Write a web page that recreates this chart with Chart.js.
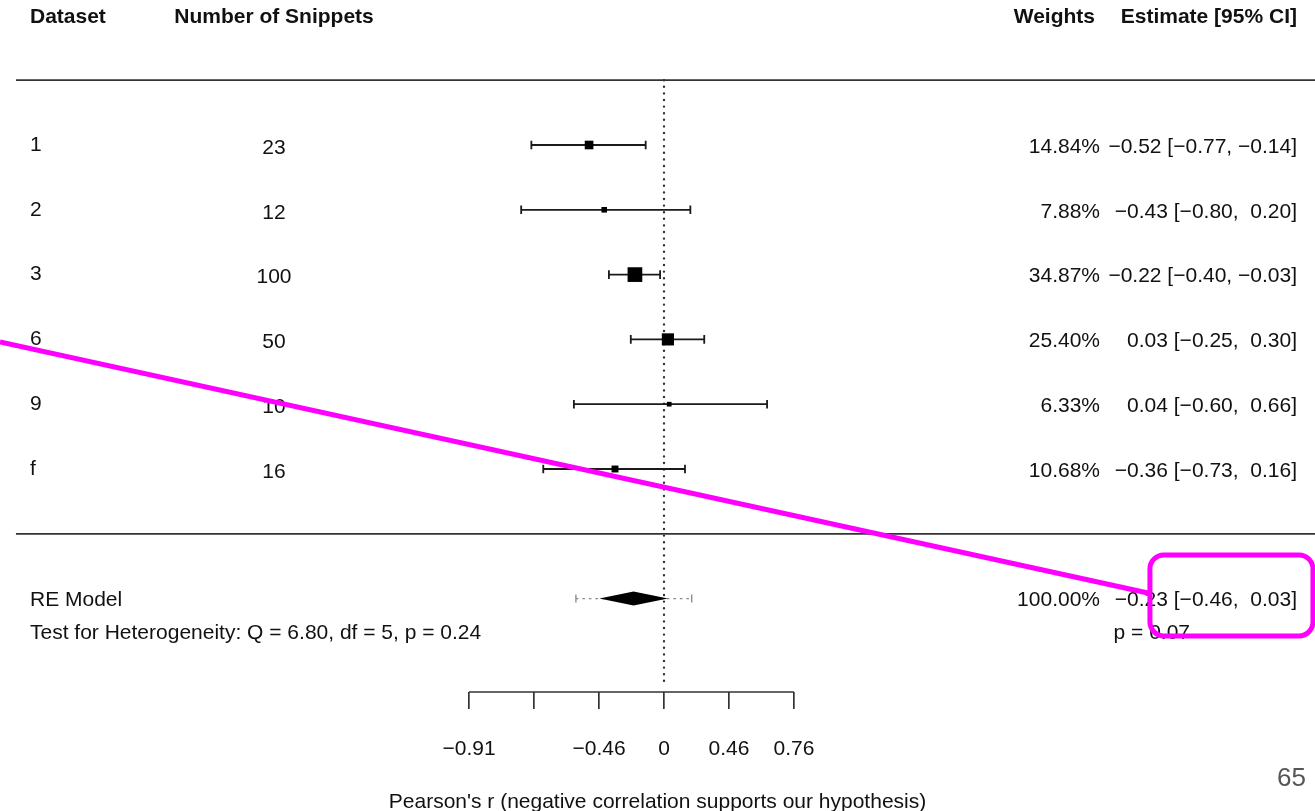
<!DOCTYPE html>
<html><head><meta charset="utf-8">
<script src="https://cdn.jsdelivr.net/npm/chart.js@4.4.1/dist/chart.umd.min.js"></script>
<style>html,body{margin:0;padding:0;background:#fff}#wrap{width:1315px;height:811px;position:relative}</style>
</head><body><div id="wrap"><canvas id="c"></canvas></div>
<script>
// ---------- data ----------
const datasetLabels = ['1', '2', '3', '6', '9', 'f'];
const snippetCounts = [23, 12, 100, 50, 10, 16];
const weights = [14.84, 7.88, 34.87, 25.40, 6.33, 10.68];
const estimates = [-0.52, -0.43, -0.22, 0.03, 0.04, -0.36];
const ciLower = [-0.77, -0.80, -0.40, -0.25, -0.60, -0.73];
const ciUpper = [-0.14, 0.20, -0.03, 0.30, 0.66, 0.16];
const reSummary = [-0.23, -0.46, 0.03];      // estimate, lower, upper
const rePrediction = [-0.59, 0.21];          // prediction interval
const reWeight = 100.00;
const reP = 0.07;
const heterogeneity = [6.80, 5, 0.24];       // Q, df, p
const tickValuesZ = [-1.5, -1, -0.5, 0, 0.5, 1];
const tickLabels = ['\u22120.91', '', '\u22120.46', '0', '0.46', '0.76'];
const headers = ['Dataset', 'Number of Snippets', 'Weights', 'Estimate [95% CI]'];
const axisTitle = "Pearson's r (negative correlation supports our hypothesis)";
const pageNumber = '65';

// ---------- layout (scale units) ----------
const FAM = '"Liberation Sans", Arial, Helvetica, sans-serif';
const X_MIN = -664 / 130, X_MAX = 651 / 130;
const Y_MIN = 7 - 547 / 64.8, Y_MAX = 7 + 145 / 64.8;
const rowOf = i => 7 - i;
const ROW_HEADER = 9, ROW_TOPLINE = 8, ROW_BOTLINE = 1, ROW_RE = 0, ROW_HET = -0.5;
const COL_DATASET = -4.877, COL_SNIP = -3.0, COL_WEIGHT = 3.354, COL_EST = 4.869, COL_P = 3.458;
const LINE_X0 = -4.985;
const TEXT_DY = 2;
const z = r => Math.atanh(r);
const fmt = v => (v < 0 ? '\u2212' : ' ') + Math.abs(v).toFixed(2);
const fmtEst = v => (v < 0 ? '\u2212' : '') + Math.abs(v).toFixed(2);
const estText = (e, lo, hi) => `${fmtEst(e)} [${fmt(lo)}, ${fmt(hi)}]`;

const sqMin = Math.sqrt(Math.min(...weights)), sqMax = Math.sqrt(Math.max(...weights));
const sideFor = w => 4.7 + 10 * (Math.sqrt(w) - sqMin) / (sqMax - sqMin);

const annotation = { line: [[-5.108, 3.96], [3.723, 0.086]], box: [3.738, 4.992, 0.673, -0.577] };

const forestPlugin = {
  id: 'forest',
  beforeDatasetsDraw(chart) {
    const { ctx, chartArea } = chart;
    const xs = chart.scales.x, ys = chart.scales.y;
    const X = v => xs.getPixelForValue(v), Y = v => ys.getPixelForValue(v);
    ctx.save();
    // separators
    ctx.strokeStyle = '#333'; ctx.lineWidth = 1.7;
    [ROW_TOPLINE, ROW_BOTLINE].forEach(r => {
      ctx.beginPath(); ctx.moveTo(X(LINE_X0), Y(r)); ctx.lineTo(chartArea.right, Y(r)); ctx.stroke();
    });
    // axis line
    ctx.beginPath(); ctx.moveTo(X(tickValuesZ[0]), chartArea.bottom);
    ctx.lineTo(X(tickValuesZ[tickValuesZ.length - 1]), chartArea.bottom); ctx.stroke();
    // dotted reference line
    ctx.save();
    ctx.setLineDash([0, 6.6]); ctx.lineCap = 'round'; ctx.lineWidth = 2.4; ctx.strokeStyle = '#333';
    ctx.beginPath(); ctx.moveTo(X(0), Y(ROW_TOPLINE)); ctx.lineTo(X(0), chartArea.bottom - 6); ctx.stroke();
    ctx.restore();
    // whiskers
    ctx.strokeStyle = '#1a1a1a'; ctx.lineWidth = 1.8;
    estimates.forEach((e, i) => {
      const y = Y(rowOf(i)), x1 = X(z(ciLower[i])), x2 = X(z(ciUpper[i]));
      ctx.beginPath(); ctx.moveTo(x1, y); ctx.lineTo(x2, y);
      ctx.moveTo(x1, y - 4.3); ctx.lineTo(x1, y + 4.3);
      ctx.moveTo(x2, y - 4.3); ctx.lineTo(x2, y + 4.3);
      ctx.stroke();
    });
    // prediction interval
    const yr = Y(ROW_RE);
    ctx.save();
    ctx.strokeStyle = '#888'; ctx.lineWidth = 1.3;
    ctx.setLineDash([2.5, 4]);
    ctx.beginPath(); ctx.moveTo(X(z(rePrediction[0])), yr); ctx.lineTo(X(z(rePrediction[1])), yr); ctx.stroke();
    ctx.setLineDash([]);
    ctx.beginPath();
    ctx.moveTo(X(z(rePrediction[0])), yr - 4); ctx.lineTo(X(z(rePrediction[0])), yr + 4);
    ctx.moveTo(X(z(rePrediction[1])), yr - 4); ctx.lineTo(X(z(rePrediction[1])), yr + 4);
    ctx.stroke();
    ctx.restore();
    // diamond
    ctx.fillStyle = '#000';
    ctx.beginPath();
    ctx.moveTo(X(z(reSummary[1])), yr);
    ctx.lineTo(X(z(reSummary[0])), yr - 7);
    ctx.lineTo(X(z(reSummary[2])), yr);
    ctx.lineTo(X(z(reSummary[0])), yr + 7);
    ctx.closePath(); ctx.fill();
    ctx.restore();
  },
  afterDraw(chart) {
    const { ctx } = chart;
    const xs = chart.scales.x, ys = chart.scales.y;
    const X = v => xs.getPixelForValue(v), Y = v => ys.getPixelForValue(v) + TEXT_DY;
    ctx.save();
    ctx.fillStyle = '#111'; ctx.textBaseline = 'middle';
    const txt = (s, x, y, align, bold) => {
      ctx.font = (bold ? 'bold ' : '') + '21px ' + FAM; ctx.textAlign = align; ctx.fillText(s, x, y);
    };
    // headers
    const yh = Y(ROW_HEADER);
    txt(headers[0], X(COL_DATASET), yh, 'left', true);
    txt(headers[1], X(COL_SNIP), yh, 'center', true);
    txt(headers[2], X(COL_WEIGHT) - 5, yh, 'right', true);
    txt(headers[3], X(COL_EST), yh, 'right', true);
    // rows
    datasetLabels.forEach((lab, i) => {
      const y = Y(rowOf(i));
      txt(lab, X(COL_DATASET), y - 2, 'left');
      txt(String(snippetCounts[i]), X(COL_SNIP), y + 1, 'center');
      txt(weights[i].toFixed(2) + '%', X(COL_WEIGHT), y, 'right');
      txt(estText(estimates[i], ciLower[i], ciUpper[i]), X(COL_EST), y, 'right');
    });
    // summary
    const yr = Y(ROW_RE);
    txt('RE Model', X(COL_DATASET), yr, 'left');
    txt(reWeight.toFixed(2) + '%', X(COL_WEIGHT), yr, 'right');
    txt(estText(reSummary[0], reSummary[1], reSummary[2]), X(COL_EST), yr, 'right');
    const yhet = Y(ROW_HET);
    txt(`Test for Heterogeneity: Q = ${heterogeneity[0].toFixed(2)}, df = ${heterogeneity[1]}, p = ${heterogeneity[2].toFixed(2)}`, X(COL_DATASET), yhet, 'left');
    txt(`p = ${reP.toFixed(2)}`, X(COL_P), yhet, 'left');
    // page number
    ctx.fillStyle = '#555'; ctx.font = '26px ' + FAM; ctx.textAlign = 'right';
    ctx.fillText(pageNumber, 1306, 779);
    // annotation
    ctx.strokeStyle = '#ff00ff'; ctx.lineWidth = 5; ctx.lineCap = 'butt';
    const Yp = v => ys.getPixelForValue(v);
    const [[ax1, ay1], [ax2, ay2]] = annotation.line;
    ctx.beginPath(); ctx.moveTo(X(ax1), Yp(ay1)); ctx.lineTo(X(ax2), Yp(ay2)); ctx.stroke();
    const [bx1, bx2, by1, by2] = annotation.box;
    ctx.beginPath();
    ctx.roundRect(X(bx1), Yp(by1), X(bx2) - X(bx1), Yp(by2) - Yp(by1), 14);
    ctx.stroke();
    ctx.restore();
  }
};

new Chart(document.getElementById('c'), {
  type: 'scatter',
  data: {
    datasets: [{
      data: estimates.map((e, i) => ({ x: z(e), y: rowOf(i) })),
      pointStyle: 'rect',
      pointRadius: weights.map(w => sideFor(w) / (2 * Math.SQRT1_2)),
      pointBackgroundColor: '#000',
      pointBorderWidth: 0,
      pointBorderColor: '#000'
    }]
  },
  options: {
    responsive: true, maintainAspectRatio: false, animation: false, events: [],
    layout: { padding: 0, autoPadding: false },
    plugins: { legend: { display: false }, tooltip: { enabled: false } },
    scales: {
      x: {
        type: 'linear', min: X_MIN, max: X_MAX,
        afterBuildTicks: s => { s.ticks = tickValuesZ.map(v => ({ value: v })); },
        afterFit: s => { s.height = 119; },
        grid: { drawOnChartArea: false, drawTicks: true, tickLength: 17, color: '#333', lineWidth: 1.7 },
        border: { display: false },
        ticks: {
          callback: v => tickLabels[tickValuesZ.indexOf(v)],
          font: { size: 21, family: FAM }, color: '#111', padding: 28,
          maxRotation: 0, autoSkip: false
        },
        title: { display: true, text: axisTitle, font: { size: 21, family: FAM }, color: '#111', padding: { top: 0, bottom: -4 } }
      },
      y: { type: 'linear', display: false, min: Y_MIN, max: Y_MAX }
    }
  },
  plugins: [forestPlugin]
});
</script></body></html>
